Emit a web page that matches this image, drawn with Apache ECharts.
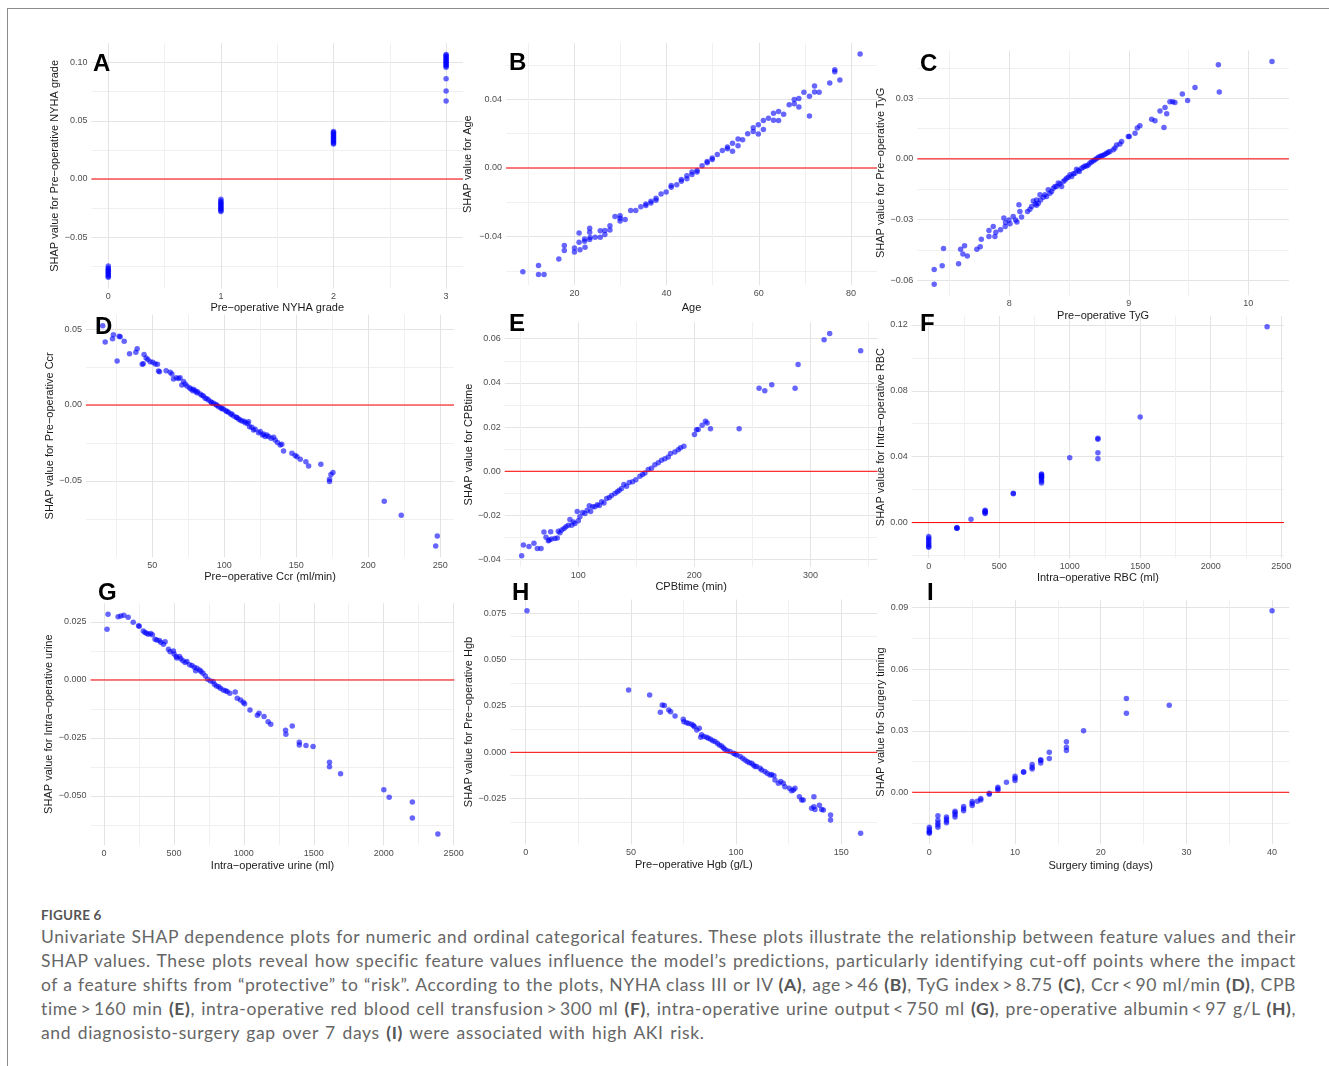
<!DOCTYPE html>
<html>
<head>
<meta charset="utf-8">
<script src="https://cdn.jsdelivr.net/npm/echarts@6/dist/echarts.min.js"></script>
<style>
  body { margin: 0; background: #fff; }
  #frame { position: absolute; left: 7px; top: 8px; width: 1330px; height: 1070px; border-top: 1px solid #8c8c8c; border-left: 1px solid #8c8c8c; }
  #chart { position: absolute; left: 0; top: 0; width: 1329px; height: 890px; }
  #cap { position: absolute; left: 41px; top: 905px; width: 1255px; font-family: Lato, "Open Sans", sans-serif; color: #666; }
  #cap .fig { font-size: 13.5px; line-height: 20px; font-weight: bold; color: #555; letter-spacing: 0.2px; }
  #cap .ln { font-size: 17.5px; line-height: 24px; letter-spacing: 0.62px; text-align: justify; text-align-last: justify; white-space: nowrap; }
  #cap .ln.last { text-align-last: left; word-spacing: 1.5px; }
  #cap b { font-weight: bold; color: #555; }
</style>
</head>
<body>
<div id="frame"></div>
<div id="chart"></div>
<div id="cap">
  <div class="fig">FIGURE 6</div>
  <div class="ln">Univariate SHAP dependence plots for numeric and ordinal categorical features. These plots illustrate the relationship between feature values and their</div>
  <div class="ln">SHAP values. These plots reveal how specific feature values influence the model’s predictions, particularly identifying cut-off points where the impact</div>
  <div class="ln">of a feature shifts from “protective” to “risk”. According to the plots, NYHA class III or IV <b>(A)</b>, age&thinsp;&gt;&thinsp;46 <b>(B)</b>, TyG index&thinsp;&gt;&thinsp;8.75 <b>(C)</b>, Ccr&thinsp;&lt;&thinsp;90 ml/min <b>(D)</b>, CPB</div>
  <div class="ln">time&thinsp;&gt;&thinsp;160 min <b>(E)</b>, intra-operative red blood cell transfusion&thinsp;&gt;&thinsp;300 ml <b>(F)</b>, intra-operative urine output&thinsp;&lt;&thinsp;750 ml <b>(G)</b>, pre-operative albumin&thinsp;&lt;&thinsp;97 g/L <b>(H)</b>,</div>
  <div class="ln last">and diagnosisto-surgery gap over 7 days <b>(I)</b> were associated with high AKI risk.</div>
</div>
<script>
// data: [feature value, SHAP value]
var nyhaPoints = [[0,-0.0748],[0,-0.0765],[0,-0.0775],[0,-0.0785],[0,-0.0795],[0,-0.0805],[0,-0.0815],[0,-0.0825],[0,-0.0835],[0,-0.0845],
  [1,-0.0175],[1,-0.019],[1,-0.020],[1,-0.021],[1,-0.022],[1,-0.023],[1,-0.024],[1,-0.025],[1,-0.026],[1,-0.027],[1,-0.028],
  [2,0.0407],[2,0.040],[2,0.039],[2,0.038],[2,0.037],[2,0.036],[2,0.035],[2,0.034],[2,0.033],[2,0.032],[2,0.031],[2,0.030],
  [3,0.107],[3,0.106],[3,0.105],[3,0.104],[3,0.103],[3,0.102],[3,0.101],[3,0.100],[3,0.099],[3,0.098],[3,0.097],[3,0.096],[3,0.0862],[3,0.0756],[3,0.067]];

var agePoints = [[8.8,-0.0606],[12.2,-0.0569],[12.2,-0.0621],[13.4,-0.0621],[16.6,-0.0531],[17.8,-0.0452],[17.8,-0.0481],[20.0,-0.0467],[20.0,-0.0490],
  [21.0,-0.0379],[21.0,-0.0433],[21.2,-0.0477],[22.2,-0.0415],[22.2,-0.0427],[22.3,-0.0462],[23.3,-0.0352],[23.3,-0.0375],[23.3,-0.0417],[23.4,-0.0406],
  [24.5,-0.0404],[25.6,-0.0367],[25.6,-0.0404],[26.6,-0.0365],[26.6,-0.0388],[27.7,-0.0337],[27.7,-0.0362],[28.8,-0.0283],[29.9,-0.0279],[29.9,-0.0294],
  [29.9,-0.0310],[31.0,-0.0300],[32.2,-0.0248],[33.3,-0.0248],[34.4,-0.0227],[35.5,-0.0219],[35.5,-0.0210],[36.6,-0.0194],[36.6,-0.0204],[37.7,-0.0177],
  [37.7,-0.0188],[38.8,-0.0152],[39.9,-0.0140],[41.0,-0.0102],[41.0,-0.0113],[42.2,-0.0098],[43.2,-0.0067],[43.2,-0.0077],[44.4,-0.0046],[44.4,-0.0063],
  [45.5,-0.0038],[45.5,-0.0023],[46.6,-0.0023],[46.6,-0.0015],[47.7,0.0013],[48.8,0.0031],[48.8,0.0038],[49.9,0.0058],[49.9,0.0050],[51.0,0.0079],
  [52.1,0.0102],[53.2,0.0123],[53.2,0.0112],[54.3,0.0144],[54.3,0.0098],[55.5,0.0169],[55.5,0.0129],[56.5,0.0165],[57.6,0.0200],[58.8,0.0235],
  [58.8,0.0213],[59.9,0.0252],[59.9,0.0198],[61.0,0.0277],[61.0,0.0225],[62.1,0.0290],[63.2,0.0319],[63.2,0.0279],[64.3,0.0329],[64.3,0.0277],
  [65.4,0.0313],[66.6,0.0369],[67.7,0.0400],[67.7,0.0375],[68.7,0.0406],[68.7,0.0356],[69.8,0.0442],[71.0,0.0304],[71.0,0.0419],[72.1,0.0479],
  [72.1,0.0444],[73.1,0.0442],[75.4,0.0496],[76.5,0.0573],[76.5,0.0562],[77.6,0.0513],[82.0,0.0665]];

var tygPoints = [[7.372,-0.0620],[7.372,-0.0547],[7.439,-0.0529],[7.450,-0.0443],[7.576,-0.0519],[7.593,-0.0447],[7.612,-0.0471],[7.626,-0.0429],
  [7.649,-0.0480],[7.729,-0.0447],[7.757,-0.0434],[7.766,-0.0397],[7.830,-0.0354],[7.830,-0.0384],[7.866,-0.0335],[7.880,-0.0384],[7.888,-0.0363],
  [7.927,-0.0351],[7.955,-0.0293],[7.966,-0.0335],[7.969,-0.0315],[7.997,-0.0302],[8.006,-0.0321],[8.033,-0.0285],[8.053,-0.0302],[8.064,-0.0312],
  [8.081,-0.0227],[8.089,-0.0260],[8.103,-0.0288],[8.153,-0.0260],[8.173,-0.0249],[8.187,-0.0236],[8.201,-0.0208],[8.218,-0.0223],[8.229,-0.0229],
  [8.243,-0.0219],[8.257,-0.0178],[8.262,-0.0203],[8.285,-0.0190],[8.312,-0.0186],[8.326,-0.0153],[8.340,-0.0170],[8.368,-0.0145],[8.382,-0.0137],
  [8.410,-0.0120],[8.438,-0.0137],[8.452,-0.0112],[8.480,-0.0096],[8.508,-0.0079],[8.522,-0.0087],[8.550,-0.0071],[8.563,-0.0051],[8.586,-0.0063],
  [8.605,-0.0046],[8.633,-0.0035],[8.661,-0.0030],[8.689,-0.0016],[8.717,-0.0005],[8.745,0.0008],[8.773,0.0015],[8.801,0.0023],[8.828,0.0033],
  [8.884,0.0053],[8.898,0.0068],[8.926,0.0073],[8.940,0.0086],[8.996,0.0110],[9.004,0.0110],[9.052,0.0127],[9.071,0.0152],[9.093,0.0163],
  [9.191,0.0196],[9.219,0.0188],[9.261,0.0237],[9.294,0.0155],[9.303,0.0254],[9.317,0.0223],[9.344,0.0282],[9.367,0.0282],[9.386,0.0279],
  [9.448,0.0321],[9.492,0.0288],[9.554,0.0353],[9.749,0.0465],[9.757,0.0330],[10.198,0.0481],
  [8.229,-0.0203],[8.298,-0.0178],[8.354,-0.0162],[8.396,-0.0137],[8.424,-0.0124],[8.466,-0.0104],[8.494,-0.0091],[8.536,-0.0074],[8.577,-0.0058],
  [8.619,-0.0041],[8.647,-0.0035],[8.675,-0.0021],[8.703,-0.0010],[8.731,0.0002],[8.759,0.0012],[8.787,0.0018],[8.815,0.0028],[8.842,0.0036],[8.870,0.0045]];

var ccrPoints = [[15.7,0.0522],[17.4,0.0414],[22.5,0.0436],[23.1,0.0463],[25.7,0.0289],[27.1,0.0452],[27.8,0.0450],[30.6,0.0419],[34.3,0.0338],
  [38.7,0.0347],[39.6,0.0371],[43.1,0.0268],[43.8,0.0272],[44.4,0.0333],[45.8,0.0309],[47.0,0.0300],[48.6,0.0285],[50.5,0.0281],[52.1,0.0270],
  [53.7,0.0268],[54.4,0.0224],[55.1,0.0219],[59.7,0.0226],[62.5,0.0215],[63.7,0.0204],[64.8,0.0171],[66.7,0.0180],[68.3,0.0175],[69.4,0.0180],
  [70.6,0.0132],[71.8,0.0154],[72.9,0.0138],[74.1,0.0125],[75.9,0.0114],[76.9,0.0105],[78.2,0.0094],[79.9,0.0094],[81.5,0.0088],[83.3,0.0072],
  [84.5,0.0064],[86.8,0.0044],[89.1,0.0033],[90.7,0.0022],[92.6,0.0011],[94.2,0.0004],[96.1,-0.0011],[97.7,-0.0018],[99.5,-0.0026],[101.2,-0.0037],
  [103.0,-0.0048],[104.6,-0.0061],[106.5,-0.0072],[108.3,-0.0081],[110.0,-0.0092],[112.3,-0.0105],[113.9,-0.0107],[116.2,-0.0121],[116.9,-0.0110],
  [117.6,-0.0143],[119.2,-0.0147],[120.4,-0.0164],[123.8,-0.0182],[125.0,-0.0175],[126.6,-0.0197],[128.5,-0.0208],[129.6,-0.0197],[130.8,-0.0208],
  [132.6,-0.0219],[134.3,-0.0213],[135.4,-0.0230],[137.0,-0.0246],[138.9,-0.0263],[140.0,-0.0259],[141.2,-0.0303],[147.0,-0.0318],[149.3,-0.0333],
  [150.5,-0.0340],[152.8,-0.0357],[156.7,-0.0373],[158.6,-0.0401],[167.1,-0.0390],[173.1,-0.0504],[173.1,-0.0489],[174.1,-0.0458],[175.5,-0.0445],
  [211.1,-0.0634],[222.9,-0.0726],[246.8,-0.0928],[247.9,-0.0862],
  [78.7,0.0103],[81.0,0.0081],[85.6,0.0059],[88.0,0.0042],[91.4,0.0015],[94.9,-0.0002],[98.4,-0.0024],[101.9,-0.0042],[105.3,-0.0059],
  [108.8,-0.0083],[111.1,-0.0099],[114.6,-0.0116],[121.5,-0.0160],[127.3,-0.0191]];

var cpbPoints = [[51.2,-0.0382],[52.7,-0.0334],[57.5,-0.0340],[61.8,-0.0326],[64.7,-0.0350],[67.9,-0.0349],[70.4,-0.0275],[72.2,-0.0298],[74.2,-0.0314],
  [75.0,-0.0311],[76.2,-0.0274],[77.0,-0.0307],[79.9,-0.0304],[81.9,-0.0302],[82.8,-0.0271],[84.2,-0.0278],[85.7,-0.0266],[87.7,-0.0259],[89.4,-0.0251],
  [91.4,-0.0244],[92.8,-0.0218],[94.3,-0.0244],[95.7,-0.0229],[97.1,-0.0236],[99.1,-0.0182],[100.0,-0.0224],[101.4,-0.0206],[103.7,-0.0186],
  [105.7,-0.0191],[107.7,-0.0176],[109.5,-0.0156],[110.6,-0.0182],[112.3,-0.0161],[114.3,-0.0161],[116.4,-0.0152],[118.1,-0.0155],[120.1,-0.0138],
  [122.1,-0.0143],[124.4,-0.0123],[126.7,-0.0119],[128.7,-0.0110],[131.6,-0.0101],[133.6,-0.0093],[135.3,-0.0086],[137.3,-0.0078],[139.3,-0.0060],
  [141.6,-0.0068],[143.9,-0.0051],[146.8,-0.0047],[149.6,-0.0038],[153.1,-0.0023],[155.4,-0.0014],[157.4,-0.0008],[160.3,0.0008],[163.1,0.0014],
  [166.0,0.0030],[168.9,0.0039],[171.7,0.0050],[174.6,0.0057],[177.5,0.0065],[179.5,0.0080],[183.2,0.0087],[186.1,0.0098],[188.1,0.0107],[191.0,0.0113],
  [200.1,0.0167],[201.9,0.0188],[203.3,0.0189],[206.7,0.0208],[209.6,0.0226],[211.0,0.0218],[213.9,0.0192],[238.6,0.0192],
  [255.8,0.0376],[260.7,0.0365],[266.7,0.0392],[289.4,0.0483],[286.8,0.0376],[311.8,0.0595],[316.6,0.0624],[343.3,0.0546]];

var rbcPoints = [[0,-0.0085],[0,-0.0095],[0,-0.0105],[0,-0.0115],[0,-0.0125],[0,-0.0135],[0,-0.0145],[0,-0.0150],
  [200,-0.0034],[200,-0.0034],[200,-0.0030],[300,0.0020],[400,0.0055],[400,0.0060],[400,0.0065],[400,0.0070],[400,0.0075],
  [600,0.0178],[600,0.0175],[800,0.0295],[800,0.029],[800,0.0285],[800,0.028],[800,0.0275],[800,0.027],[800,0.026],[800,0.025],[800,0.024],
  [1000,0.0394],[1200,0.0511],[1200,0.0505],[1200,0.0424],[1200,0.0388],[1500,0.0640],[2400,0.1188]];

var urinePoints = [[21.6,0.0218],[28.8,0.0283],[100.8,0.0272],[120.0,0.0276],[141.6,0.0279],[172.7,0.0270],[208.7,0.0249],[247.1,0.0234],[251.9,0.0231],
  [280.7,0.0211],[292.7,0.0205],[304.7,0.0201],[316.7,0.0197],[333.5,0.0200],[345.5,0.0195],[364.7,0.0175],[376.7,0.0172],[395.9,0.0170],[405.5,0.0162],
  [424.7,0.0154],[436.7,0.0165],[460.7,0.0132],[472.6,0.0122],[496.6,0.0125],[501.4,0.0112],[515.8,0.0101],[520.6,0.0095],[539.8,0.0101],[549.4,0.0091],
  [563.8,0.0083],[580.6,0.0075],[592.6,0.0079],[611.8,0.0065],[628.6,0.0062],[645.4,0.0055],[655.0,0.0040],[664.6,0.0050],[683.8,0.0043],[693.4,0.0036],
  [707.8,0.0029],[724.6,0.0017],[741.4,0.0003],[760.6,-0.0004],[779.8,-0.0007],[789.3,-0.0019],[803.7,-0.0026],[820.5,-0.0029],[832.5,-0.0036],
  [851.7,-0.0043],[868.5,-0.0047],[880.5,-0.0050],[899.7,-0.0057],[938.1,-0.0052],[952.5,-0.0079],[976.5,-0.0086],[995.7,-0.0096],[1005.3,-0.0103],
  [1043.7,-0.0129],[1096.4,-0.0152],[1108.4,-0.0144],[1144.4,-0.0158],[1173.2,-0.0180],[1192.4,-0.0191],[1298.0,-0.0217],[1300.4,-0.0234],
  [1346.0,-0.0198],[1396.4,-0.0269],[1396.4,-0.0280],[1444.3,-0.0283],[1494.7,-0.0287],[1612.3,-0.0355],[1612.3,-0.0374],[1691.5,-0.0404],
  [2001.0,-0.0473],[2039.3,-0.0506],[2204.9,-0.0526],[2204.9,-0.0595],[2387.2,-0.0664]];

var hgbPoints = [[0.6,0.0764],[48.9,0.0336],[58.9,0.0309],[64.0,0.0216],[64.9,0.0255],[65.9,0.0252],[68.0,0.0228],[68.9,0.0219],[71.0,0.0196],
  [74.9,0.0178],[75.2,0.0165],[76.5,0.0160],[77.5,0.0156],[78.9,0.0151],[79.7,0.0144],[80.2,0.0138],[81.3,0.0121],[82.5,0.0130],[83.2,0.0081],
  [83.6,0.0095],[84.7,0.0085],[86.0,0.0081],[86.8,0.0076],[87.9,0.0070],[88.9,0.0063],[90.0,0.0058],[91.1,0.0049],[92.0,0.0040],[93.1,0.0034],
  [93.9,0.0025],[94.7,0.0016],[95.8,0.0009],[97.1,0.0004],[98.7,-0.0005],[99.5,-0.0009],[100.3,-0.0014],[101.9,-0.0023],[103.1,-0.0032],
  [104.2,-0.0041],[105.3,-0.0050],[106.3,-0.0056],[107.4,-0.0059],[108.2,-0.0068],[109.0,-0.0077],[109.8,-0.0077],[111.4,-0.0086],[112.2,-0.0095],
  [113.7,-0.0104],[114.8,-0.0113],[116.1,-0.0122],[116.9,-0.0119],[118.0,-0.0126],[118.5,-0.0149],[120.1,-0.0167],[121.2,-0.0158],[122.4,-0.0167],
  [123.2,-0.0185],[125.3,-0.0194],[126.4,-0.0207],[127.2,-0.0203],[128.0,-0.0194],[130.1,-0.0239],[131.2,-0.0257],[131.9,-0.0257],[135.9,-0.0302],
  [137.0,-0.0293],[137.0,-0.0239],[137.5,-0.0308],[139.6,-0.0286],[140.7,-0.0308],[141.5,-0.0311],[144.9,-0.0338],[144.9,-0.0365],[159.2,-0.0437]];

var timingPoints = [[0,-0.017],[0,-0.018],[0,-0.019],[0,-0.0195],[0,-0.020],[1,-0.0114],[1,-0.0136],[1,-0.015],[1,-0.016],[1,-0.017],
  [2,-0.012],[2,-0.013],[2,-0.014],[2,-0.0149],[3,-0.0092],[3,-0.010],[3,-0.011],[3,-0.012],[4,-0.007],[4,-0.008],[4,-0.009],
  [5,-0.0045],[5,-0.0055],[5,-0.0065],[5.6,-0.0044],[6,-0.003],[6,-0.0038],[7,-0.0005],[7,-0.001],[8,0.001],[8,0.0017],[8,0.0024],
  [9,0.0049],[10,0.0058],[10,0.0068],[10,0.0078],[11,0.0100],[11,0.0098],[12,0.0114],[12,0.0122],[12,0.0135],[13,0.0143],[13,0.0155],[13,0.0159],
  [14,0.0165],[14,0.0195],[16,0.0204],[16,0.0219],[16,0.0246],[18,0.0300],[23,0.0386],[23,0.0457],[28,0.0425],[40,0.0885]];

// panels: letter, data, titles, ticks, box = [left, top, right, bottom] in px
var panels = [
  {tag:'A', pts:nyhaPoints, xt:'Pre\u2212operative NYHA grade', yt:'SHAP value for Pre\u2212operative NYHA grade',
   xMaj:[0,1,2,3], xMin:[0.5,1.5,2.5], yMaj:[-0.05,0,0.05,0.1], yMin:[-0.075,-0.025,0.025,0.075], dec:2,
   box:[91.4,43.3,463,288.5], ygap:35.4, xgap:19.5, lab:[93,64]},
  {tag:'B', pts:agePoints, xt:'Age', yt:'SHAP value for Age',
   xMaj:[20,40,60,80], xMin:[10,30,50,70], yMaj:[-0.04,0,0.04], yMin:[-0.06,-0.02,0.02,0.06], dec:2,
   box:[506,43,877,285.4], ygap:37.7, xgap:23, lab:[509,63]},
  {tag:'C', pts:tygPoints, xt:'Pre\u2212operative TyG', yt:'SHAP value for Pre\u2212operative TyG',
   xMaj:[8,9,10], xMin:[7.5,8.5,9.5], yMaj:[-0.06,-0.03,0,0.03], yMin:[-0.045,-0.015,0.015,0.045], dec:2,
   box:[917.3,50.4,1288.9,295.4], ygap:35.6, xgap:20.6, lab:[920,64]},
  {tag:'D', pts:ccrPoints, xt:'Pre\u2212operative Ccr (ml/min)', yt:'SHAP value for Pre\u2212operative Ccr',
   xMaj:[50,100,150,200,250], xMin:[25,75,125,175,225], yMaj:[-0.05,0,0.05], yMin:[-0.075,-0.025,0.025], dec:2,
   box:[86,314.7,454,557], ygap:36, xgap:19.7, lab:[95,327]},
  {tag:'E', pts:cpbPoints, xt:'CPBtime (min)', yt:'SHAP value for CPBtime',
   xMaj:[100,200,300], xMin:[50,150,250,350], yMaj:[-0.04,-0.02,0,0.02,0.04,0.06], yMin:[-0.03,-0.01,0.01,0.03,0.05], dec:2,
   box:[504.7,322.3,877.6,566.8], ygap:34.7, xgap:20, lab:[509,324]},
  {tag:'F', pts:rbcPoints, xt:'Intra\u2212operative RBC (ml)', yt:'SHAP value for Intra\u2212operative RBC',
   xMaj:[0,500,1000,1500,2000,2500], xMin:[250,750,1250,1750,2250], yMaj:[0,0.04,0.08,0.12], yMin:[-0.02,0.02,0.06,0.1], dec:2,
   box:[911.8,315.8,1284,558.3], ygap:30.1, xgap:18.4, lab:[920,324]},
  {tag:'G', pts:urinePoints, xt:'Intra\u2212operative urine (ml)', yt:'SHAP value for Intra\u2212operative urine',
   xMaj:[0,500,1000,1500,2000,2500], xMin:[250,750,1250,1750,2250], yMaj:[-0.05,-0.025,0,0.025], yMin:[-0.0625,-0.0375,-0.0125,0.0125], dec:3,
   box:[90.5,603.3,454.4,845], ygap:40.5, xgap:21, lab:[98,593]},
  {tag:'H', pts:hgbPoints, xt:'Pre\u2212operative Hgb (g/L)', yt:'SHAP value for Pre\u2212operative Hgb',
   xMaj:[0,50,100,150], xMin:[25,75,125], yMaj:[-0.025,0,0.025,0.05,0.075], yMin:[-0.0375,-0.0125,0.0125,0.0375,0.0625], dec:3,
   box:[510.3,599.5,877.3,844.5], ygap:40.3, xgap:20.8, lab:[512,593]},
  {tag:'I', pts:timingPoints, xt:'Surgery timing (days)', yt:'SHAP value for Surgery timing',
   xMaj:[0,10,20,30,40], xMin:[5,15,25,35], yMaj:[0,0.03,0.06,0.09], yMin:[-0.015,0.015,0.045,0.075], dec:2,
   box:[912.2,599.7,1289.2,844.4], ygap:30.5, xgap:21.6, lab:[927,593]}
];

var FONT = '"Liberation Sans", Arial, sans-serif';

// ggplot style 5% expansion
function span(vals) {
  var lo = Math.min.apply(null, vals), hi = Math.max.apply(null, vals);
  var pad = (hi - lo) * 0.05;
  return [lo - pad, hi + pad];
}
function fmt(dec) {
  return function (v) {
    var s = Math.abs(v).toFixed(dec);
    if (Number(s) === 0) return (0).toFixed(dec);
    return (v < 0 ? '\u2212' : '') + s;
  };
}
// all grid lines sorted, major darker than minor
function gridLines(maj, mnr, r) {
  var all = [];
  maj.forEach(function (v) { if (v >= r[0] && v <= r[1]) all.push({v: v, m: true}); });
  mnr.forEach(function (v) { if (v >= r[0] && v <= r[1]) all.push({v: v, m: false}); });
  all.sort(function (a, b) { return a.v - b.v; });
  return {
    vals: all.map(function (d) { return d.v; }),
    cols: all.map(function (d) { return d.m ? '#E4E4E4' : '#F0F0F0'; }),
    labels: maj.filter(function (v) { return v >= r[0] && v <= r[1]; })
  };
}

var grids = [], xAxes = [], yAxes = [], series = [], letters = [];

panels.forEach(function (p, i) {
  var xr = span(p.pts.map(function (d) { return d[0]; }));
  var yr = span(p.pts.map(function (d) { return d[1]; }));
  var gx = gridLines(p.xMaj, p.xMin, xr);
  var gy = gridLines(p.yMaj, p.yMin, yr);
  var b = p.box;
  grids.push({left: b[0], top: b[1], width: b[2] - b[0], height: b[3] - b[1], containLabel: false});
  xAxes.push({
    type: 'value', gridIndex: i, min: xr[0], max: xr[1],
    axisLine: {show: false, onZero: false}, axisTick: {show: false, customValues: gx.vals},
    splitLine: {show: true, lineStyle: {color: gx.cols, width: 1}},
    axisLabel: {customValues: gx.labels, color: '#4D4D4D', fontSize: 9, fontFamily: FONT, margin: 4,
      formatter: function (v) { return String(v); }},
    name: p.xt, nameLocation: 'middle', nameGap: p.xgap - 5.5,
    nameTextStyle: {color: '#1a1a1a', fontSize: 11, fontFamily: FONT}
  });
  yAxes.push({
    type: 'value', gridIndex: i, min: yr[0], max: yr[1],
    axisLine: {show: false, onZero: false}, axisTick: {show: false, customValues: gy.vals},
    splitLine: {show: true, lineStyle: {color: gy.cols, width: 1}},
    axisLabel: {customValues: gy.labels, color: '#4D4D4D', fontSize: 9, fontFamily: FONT, margin: 4,
      formatter: fmt(p.dec)},
    name: p.yt, nameLocation: 'middle', nameGap: p.ygap - 5.5,
    nameTextStyle: {color: '#1a1a1a', fontSize: 11, fontFamily: FONT}
  });
  series.push({
    type: 'scatter', xAxisIndex: i, yAxisIndex: i, data: p.pts,
    symbolSize: 5.5, itemStyle: {color: '#0000FF', opacity: 0.6}, z: 3
  });
  // red reference line at SHAP = 0, across the whole panel
  series.push({
    type: 'line', xAxisIndex: i, yAxisIndex: i, data: [[xr[0], 0], [xr[1], 0]],
    symbol: 'none', silent: true, z: 4,
    lineStyle: {color: '#FF0000', width: 1, type: 'solid'}
  });
  letters.push({
    type: 'text', x: p.lab[0], y: p.lab[1], z: 100,
    style: {text: p.tag, fill: '#000', font: 'bold 24px ' + FONT, align: 'left', verticalAlign: 'middle'}
  });
});

var chart = echarts.init(document.getElementById('chart'));
chart.setOption({
  animation: false,
  backgroundColor: 'transparent',
  grid: grids,
  xAxis: xAxes,
  yAxis: yAxes,
  series: series,
  graphic: letters
});
</script>
</body>
</html>
